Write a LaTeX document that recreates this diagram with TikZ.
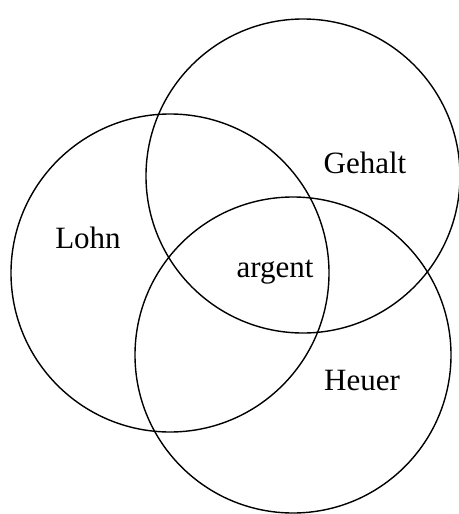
\documentclass[tikz,border=0pt]{standalone}
\usepackage{fontspec}
\setmainfont{Liberation Serif}
\usepackage{tikz}

\begin{document}
\begin{tikzpicture}[x=1pt, y=-1pt, every node/.style={font=\fontsize{31}{36}\selectfont},
  set/.style={draw, circle, line width=1.4pt, inner sep=0pt}]
  \useasboundingbox (0,0) rectangle (458,514);

  \node[set, minimum size=314pt] (G) at (303,176) {};
  \node[set, minimum size=318pt] (L) at (170,273) {};
  \node[set, minimum size=316pt] (H) at (293,355) {};

  \node (gehalt) at (365,163) {Gehalt};
  \node (lohn) at (88,238) {Lohn};
  \node (argent) at (275,272) {argent};
  \node (heuer) at (362,380) {Heuer};
\end{tikzpicture}
\end{document}
